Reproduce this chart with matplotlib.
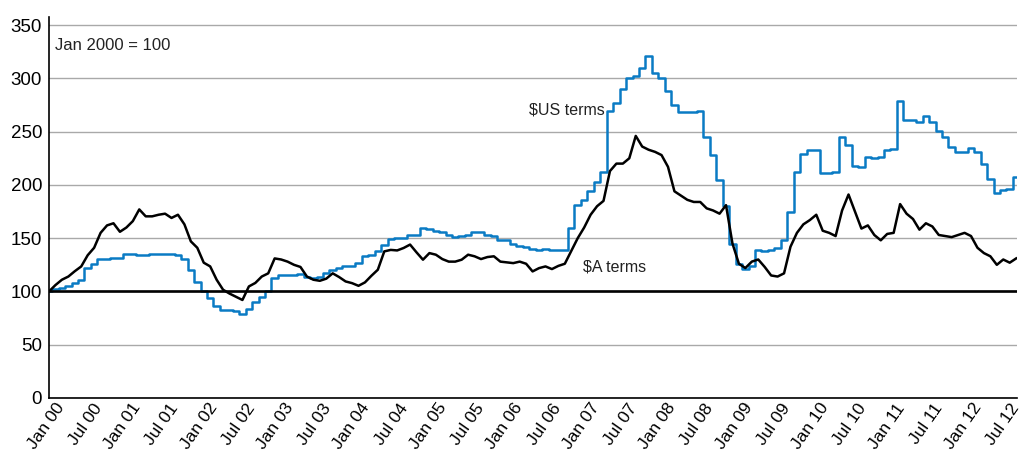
import numpy as np
import pandas as pd
import matplotlib
matplotlib.use("Agg")
import matplotlib.pyplot as plt
import matplotlib.dates as mdates
import matplotlib.transforms as mtransforms

plt.rcParams['font.family'] = ['Liberation Sans', 'DejaVu Sans']

# Evenly spaced observation dates (151 readings, Jan 2000 to late Aug 2012)
dates = pd.date_range('2000-01-01', '2012-08-28', periods=151)

aud_terms = [
    100, 106, 111, 114, 119, 123.5, 134, 141, 155, 162,
    164, 156, 160, 166, 177, 170.5, 170.5, 172, 173, 169,
    172, 163, 147, 141, 127, 123.5, 111, 101.6, 98, 95,
    92, 104.7, 108, 114, 117, 131, 130, 128, 125, 123,
    114, 111, 110, 112, 117, 113.5, 109.4, 107.8, 105.3, 108.5,
    114.7, 120.4, 137.6, 139, 138.5, 140.8, 144, 136.7, 129.8, 136,
    134.5, 130.4, 128, 128, 129.8, 134.5, 133, 130.4, 132.3, 133,
    128, 127.3, 126.6, 128, 126, 118.8, 121.9, 123.5, 121, 124,
    126, 138, 150, 160, 172, 180, 185, 213, 220, 220,
    225, 246, 236, 233, 231, 228, 217, 194, 190, 186,
    184, 184, 178, 176, 173, 181, 145, 126, 122, 128,
    130, 123, 115, 114, 117, 142, 155, 163, 167, 172,
    157, 155, 152, 176, 191, 175, 159, 162, 153, 148,
    154, 155, 182, 173, 168, 158, 164, 161, 153, 152,
    151, 153, 155, 152, 141, 136, 133, 125, 130, 127,
    131,
]

usd_terms = [
    100, 102.5, 103, 105, 108, 111, 122, 126, 130, 130.5,
    131, 131.3, 135.4, 135, 134, 134, 135, 135.4, 135, 135,
    134.5, 130, 120, 109, 100, 94, 86, 83, 83, 82,
    79, 84, 89.7, 95, 100, 112.5, 115, 115.7, 115.7, 116,
    113.5, 112.5, 114, 117, 119.7, 122, 123.5, 124, 126.6, 133,
    134.5, 137.6, 144, 149.5, 150, 150, 152.7, 152.7, 159.6, 159,
    157, 155.5, 153, 151, 151.7, 153, 156, 156, 153, 151.7,
    148, 148.6, 144.8, 143, 141.7, 139.8, 139.2, 140, 139, 139,
    139, 160, 181, 186, 194, 203, 212, 269, 277, 290,
    300, 302, 310, 321, 305, 300, 288, 275, 268, 268,
    268, 269, 245, 228, 205, 180, 145, 126, 121, 124,
    139, 138, 139, 141, 148, 175, 212, 229, 233, 233,
    211, 211, 212, 245, 237, 218, 217, 226, 225, 226,
    233, 234, 279, 261, 261, 259, 265, 259, 251, 245,
    236, 231, 231, 235, 231, 220, 206, 192, 195, 196.5,
    207,
]

y_ticks = [0, 50, 100, 150, 200, 250, 300, 350]

fig = plt.figure(figsize=(10.21, 4.57), dpi=100)
ax = fig.add_axes([49/1021, 1-398/457, (1017-49)/1021, (398-17)/457])

blue = '#0a7bc4'
ax.plot(dates, usd_terms, color=blue, lw=1.8, drawstyle='steps-mid', zorder=3)
ax.plot(dates, aud_terms, color='black', lw=1.8, zorder=4)
ax.axhline(100, color='black', lw=1.9, zorder=5)

ax.set_ylim(0, 357.6)
ax.set_xlim(pd.Timestamp('2000-01-01'), pd.Timestamp('2012-09-01'))
ax.set_yticks(y_ticks)
ax.yaxis.grid(True, color='#a9a9a9', lw=1.0)
ax.set_axisbelow(True)

for s in ['top', 'right']:
    ax.spines[s].set_visible(False)
ax.spines['left'].set_linewidth(1.2)
ax.spines['bottom'].set_linewidth(1.2)

ax.xaxis.set_major_locator(mdates.MonthLocator(bymonth=[1, 7]))
ax.xaxis.set_major_formatter(mdates.DateFormatter('%b %y'))
ax.tick_params(axis='both', length=0)
ax.tick_params(axis='y', pad=5, labelsize=13.5)
ax.tick_params(axis='x', pad=5, labelsize=12.5)

offset = mtransforms.ScaledTranslation(0.12, 0, fig.dpi_scale_trans)
for lab in ax.get_xticklabels():
    lab.set_rotation(55)
    lab.set_rotation_mode('anchor')
    lab.set_ha('right')
    lab.set_va('center')
    lab.set_transform(lab.get_transform() + offset)

ax.text(0.0062, 0.9265, 'Jan 2000 = 100', transform=ax.transAxes,
        fontsize=12, ha='left', va='center', color='#222222')
ax.text(0.5744, 0.756, '$US terms', transform=ax.transAxes,
        fontsize=11.5, ha='right', va='center', color='#222222')
ax.text(0.5517, 0.344, '$A terms', transform=ax.transAxes,
        fontsize=11.5, ha='left', va='center', color='#222222')

fig.savefig('out.png', dpi=100)
